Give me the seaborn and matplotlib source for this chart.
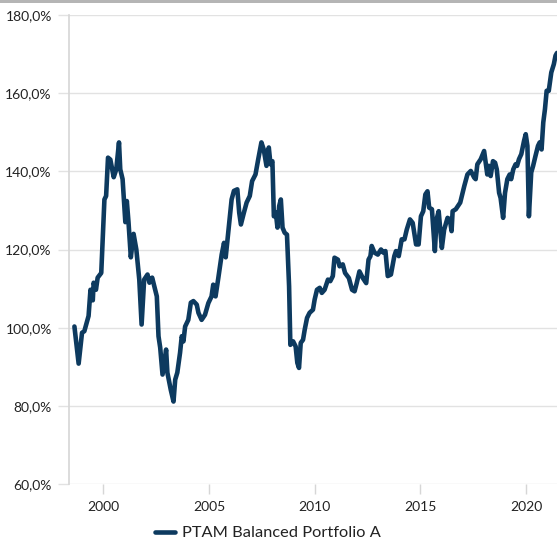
import matplotlib
matplotlib.use("Agg")
import matplotlib.pyplot as plt
from matplotlib.patches import Rectangle
from matplotlib.ticker import FuncFormatter
import seaborn as sns
import pandas as pd

series_name = "PTAM Balanced Portfolio A"

years = [
    1998.63, 1998.83, 1998.99, 1999.10, 1999.30, 1999.39, 1999.50, 1999.54, 1999.65, 1999.73,
    1999.90, 2000.05, 2000.13, 2000.22, 2000.33, 2000.49, 2000.61, 2000.74, 2000.80, 2000.91,
    2001.04, 2001.11, 2001.19, 2001.30, 2001.43, 2001.56, 2001.70, 2001.81, 2001.93, 2002.09,
    2002.18, 2002.31, 2002.53, 2002.61, 2002.69, 2002.80, 2002.97, 2003.03, 2003.19, 2003.32,
    2003.40, 2003.50, 2003.63, 2003.71, 2003.79, 2003.87, 2004.02, 2004.14, 2004.26, 2004.42,
    2004.50, 2004.65, 2004.81, 2004.97, 2005.12, 2005.20, 2005.31, 2005.44, 2005.60, 2005.71,
    2005.79, 2005.91, 2006.07, 2006.18, 2006.34, 2006.43, 2006.51, 2006.65, 2006.78, 2006.93,
    2007.04, 2007.20, 2007.33, 2007.48, 2007.59, 2007.72, 2007.83, 2007.91, 2008.00, 2008.07,
    2008.16, 2008.24, 2008.32, 2008.40, 2008.48, 2008.58, 2008.69, 2008.79, 2008.85, 2008.98,
    2009.10, 2009.18, 2009.26, 2009.34, 2009.45, 2009.53, 2009.64, 2009.76, 2009.92, 2010.00,
    2010.11, 2010.24, 2010.34, 2010.47, 2010.63, 2010.74, 2010.86, 2010.94, 2011.10, 2011.18,
    2011.33, 2011.44, 2011.62, 2011.77, 2011.89, 2011.99, 2012.12, 2012.28, 2012.44, 2012.55,
    2012.64, 2012.70, 2012.83, 2012.99, 2013.14, 2013.25, 2013.35, 2013.46, 2013.61, 2013.77,
    2013.85, 2013.98, 2014.12, 2014.25, 2014.36, 2014.51, 2014.64, 2014.80, 2014.92, 2015.03,
    2015.14, 2015.24, 2015.34, 2015.42, 2015.55, 2015.69, 2015.77, 2015.87, 2016.02, 2016.13,
    2016.29, 2016.40, 2016.48, 2016.53, 2016.68, 2016.89, 2017.08, 2017.23, 2017.39, 2017.55,
    2017.62, 2017.70, 2017.86, 2018.02, 2018.17, 2018.25, 2018.33, 2018.44, 2018.54, 2018.62,
    2018.73, 2018.80, 2018.92, 2019.01, 2019.12, 2019.23, 2019.30, 2019.40, 2019.51, 2019.58,
    2019.67, 2019.78, 2019.91, 2019.99, 2020.07, 2020.14, 2020.25, 2020.34, 2020.45, 2020.57,
    2020.65, 2020.74, 2020.82, 2020.90, 2020.98, 2021.08, 2021.20, 2021.32, 2021.40, 2021.47,
]

values = [
    100.3, 90.8, 98.7, 99.1, 103.0, 109.7, 107.0, 111.5, 109.7, 112.8,
    114.0, 132.8, 133.7, 143.5, 143.0, 138.5, 140.5, 147.4, 140.5, 138.0,
    127.0, 132.4, 127.0, 118.0, 124.0, 120.0, 112.3, 100.8, 112.3, 113.6,
    111.5, 112.8, 108.0, 97.8, 94.9, 88.0, 94.4, 88.5, 84.1, 81.1,
    86.7, 88.5, 93.6, 97.8, 96.5, 100.3, 102.0, 106.4, 106.8, 105.9,
    103.8, 102.0, 103.3, 106.3, 108.0, 111.0, 108.0, 112.7, 118.7, 121.7,
    118.0, 124.3, 132.8, 135.0, 135.4, 129.4, 126.4, 129.4, 132.0, 133.7,
    137.5, 139.2, 143.1, 147.4, 145.6, 141.4, 146.1, 141.8, 142.6, 128.5,
    129.5, 125.6, 131.1, 132.8, 125.6, 124.3, 123.8, 110.6, 95.6, 96.5,
    95.2, 91.0, 89.7, 96.1, 96.9, 99.5, 102.5, 103.8, 104.6, 107.2,
    109.7, 110.2, 108.9, 109.7, 112.3, 111.9, 113.2, 117.9, 117.4, 115.7,
    116.2, 114.0, 112.7, 109.7, 109.3, 111.4, 114.4, 112.7, 111.4, 117.4,
    118.3, 120.9, 119.2, 118.7, 120.0, 119.2, 119.6, 113.2, 113.6, 118.3,
    119.6, 118.3, 122.6, 122.6, 125.1, 127.7, 126.8, 121.3, 121.3, 128.5,
    129.8, 134.1, 134.9, 130.7, 130.3, 119.6, 127.7, 129.8, 120.4, 125.1,
    128.1, 127.7, 124.7, 129.8, 130.3, 132.0, 136.2, 139.2, 140.1, 138.4,
    138.0, 141.8, 143.1, 145.2, 139.2, 141.4, 138.8, 142.6, 142.2, 140.5,
    134.5, 133.2, 128.1, 134.5, 138.0, 139.2, 138.0, 140.5, 141.8, 141.4,
    143.1, 144.4, 147.8, 149.5, 146.5, 128.5, 139.7, 141.4, 143.9, 146.5,
    147.4, 145.6, 152.5, 155.9, 160.6, 160.6, 165.3, 167.4, 169.6, 170.3,
]

x_ticks = [2000, 2005, 2010, 2015, 2020]
y_ticks = [60, 80, 100, 120, 140, 160, 180]

df = pd.DataFrame({"year": years, "value": values, "series": series_name})

sns.set_theme(style="white")
plt.rcParams["font.family"] = ["Lato", "DejaVu Sans"]

line_color = "#0d3a5f"
grid_color = "#e2e2e2"
text_color = "#222222"

fig = plt.figure(figsize=(5.57, 5.43), dpi=100)
ax = fig.add_axes([68.5 / 557, 1 - 484 / 543, 1 - 68.5 / 557, (484 - 15) / 543])

sns.lineplot(data=df, x="year", y="value", hue="series", palette=[line_color],
             linewidth=3.3, ax=ax, legend=False, solid_joinstyle="round")

ax.set_xlim(1998.35, 2021.47)
ax.set_ylim(60, 180)
ax.set_xticks(x_ticks)
ax.set_yticks(y_ticks)
ax.xaxis.set_major_formatter(FuncFormatter(lambda v, p: f"{int(v)}"))
ax.yaxis.set_major_formatter(FuncFormatter(lambda v, p: f"{v:.1f}%".replace(".", ",")))
ax.set_xlabel("")
ax.set_ylabel("")

ax.grid(axis="y", color=grid_color, linewidth=1.0)
ax.grid(axis="x", visible=False)
ax.set_axisbelow(True)

for s in ["top", "right", "bottom"]:
    ax.spines[s].set_visible(False)
ax.spines["left"].set_color("#d6d6d6")
ax.spines["left"].set_linewidth(1.2)

ax.tick_params(axis="y", which="major", length=8, width=1.0, color=grid_color,
               labelsize=10, labelcolor=text_color, pad=4, left=True)
ax.tick_params(axis="x", which="major", length=7, width=1.0, color="#d6d6d6",
               labelsize=10, labelcolor=text_color, pad=5, bottom=True, direction="out")

handle = plt.Line2D([], [], color=line_color, linewidth=3.3)
fig.legend([handle], [series_name], loc="center", bbox_to_anchor=(268 / 557, 1 - 533 / 543),
           frameon=False, fontsize=11.8, handlelength=1.2, handletextpad=0.45,
           labelcolor=text_color)

fig.patches.append(Rectangle((0, 1 - 3 / 543), 1, 3 / 543, transform=fig.transFigure,
                             facecolor="#b5b5b5", edgecolor="none"))

fig.savefig("out.png", dpi=100)
